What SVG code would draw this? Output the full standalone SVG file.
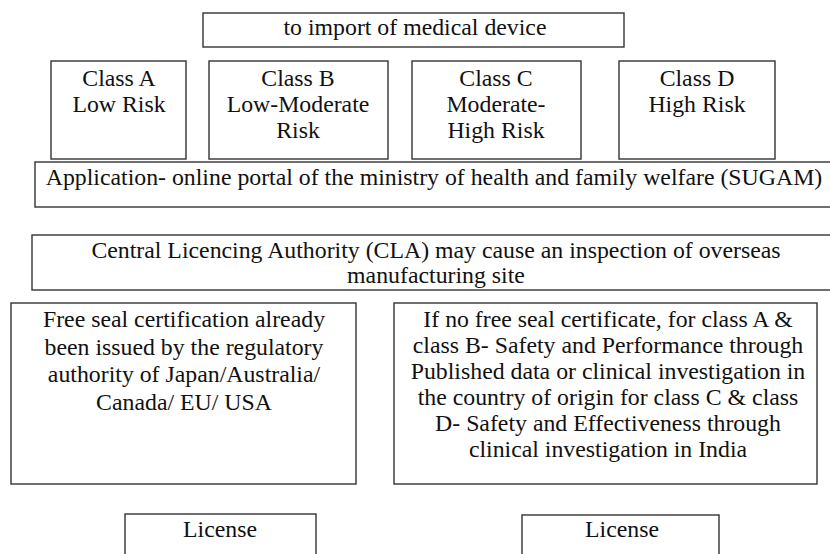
<svg xmlns="http://www.w3.org/2000/svg" width="830" height="554" viewBox="0 0 830 554">
<style>
.box{fill:#fff;stroke:#333;stroke-width:1.4}
.t{font-family:"Liberation Serif","Times New Roman",serif;font-size:23.8px;fill:#111;text-anchor:middle}
</style>
<rect width="830" height="554" fill="#fff"/>
<g id="connectors"></g>
<g id="import"><rect class="box" x="203" y="13" width="421" height="34"/><text class="t" x="415" y="35">to import of medical device</text></g>
<g id="classA"><rect class="box" x="51" y="61" width="135" height="98"/><text class="t" x="119" y="86">Class A</text><text class="t" x="119" y="112">Low Risk</text></g>
<g id="classB"><rect class="box" x="209" y="61" width="179" height="98"/><text class="t" x="298" y="86">Class B</text><text class="t" x="298" y="112">Low-Moderate</text><text class="t" x="298" y="138">Risk</text></g>
<g id="classC"><rect class="box" x="412" y="61" width="169" height="98"/><text class="t" x="496" y="86">Class C</text><text class="t" x="496" y="112">Moderate-</text><text class="t" x="496" y="138">High Risk</text></g>
<g id="classD"><rect class="box" x="619" y="61" width="156" height="98"/><text class="t" x="697" y="86">Class D</text><text class="t" x="697" y="112">High Risk</text></g>
<g id="application"><rect class="box" x="35" y="162" width="810" height="45"/><text class="t" x="434" y="185">Application- online portal of the ministry of health and family welfare (SUGAM)</text></g>
<g id="cla"><rect class="box" x="32" y="235" width="810" height="55"/><text class="t" x="436" y="258">Central Licencing Authority (CLA) may cause an inspection of overseas</text><text class="t" x="436" y="283">manufacturing site</text></g>
<g id="freeseal"><rect class="box" x="11" y="303" width="345" height="181"/><text class="t" x="184" y="327">Free seal certification already</text><text class="t" x="184" y="354.5">been issued by the regulatory</text><text class="t" x="184" y="382">authority of Japan/Australia/</text><text class="t" x="184" y="409.5">Canada/ EU/ USA</text></g>
<g id="nofreeseal"><rect class="box" x="394" y="303" width="423" height="181"/><text class="t" x="608" y="327">If no free seal certificate, for class A &amp;</text><text class="t" x="608" y="353">class B- Safety and Performance through</text><text class="t" x="608" y="379">Published data or clinical investigation in</text><text class="t" x="608" y="405">the country of origin for class C &amp; class</text><text class="t" x="608" y="431">D- Safety and Effectiveness through</text><text class="t" x="608" y="457">clinical investigation in India</text></g>
<g id="license1"><rect class="box" x="125" y="514" width="191" height="60"/><text class="t" x="220" y="537">License</text></g>
<g id="license2"><rect class="box" x="522" y="515" width="197" height="60"/><text class="t" x="622" y="537">License</text></g>
</svg>
